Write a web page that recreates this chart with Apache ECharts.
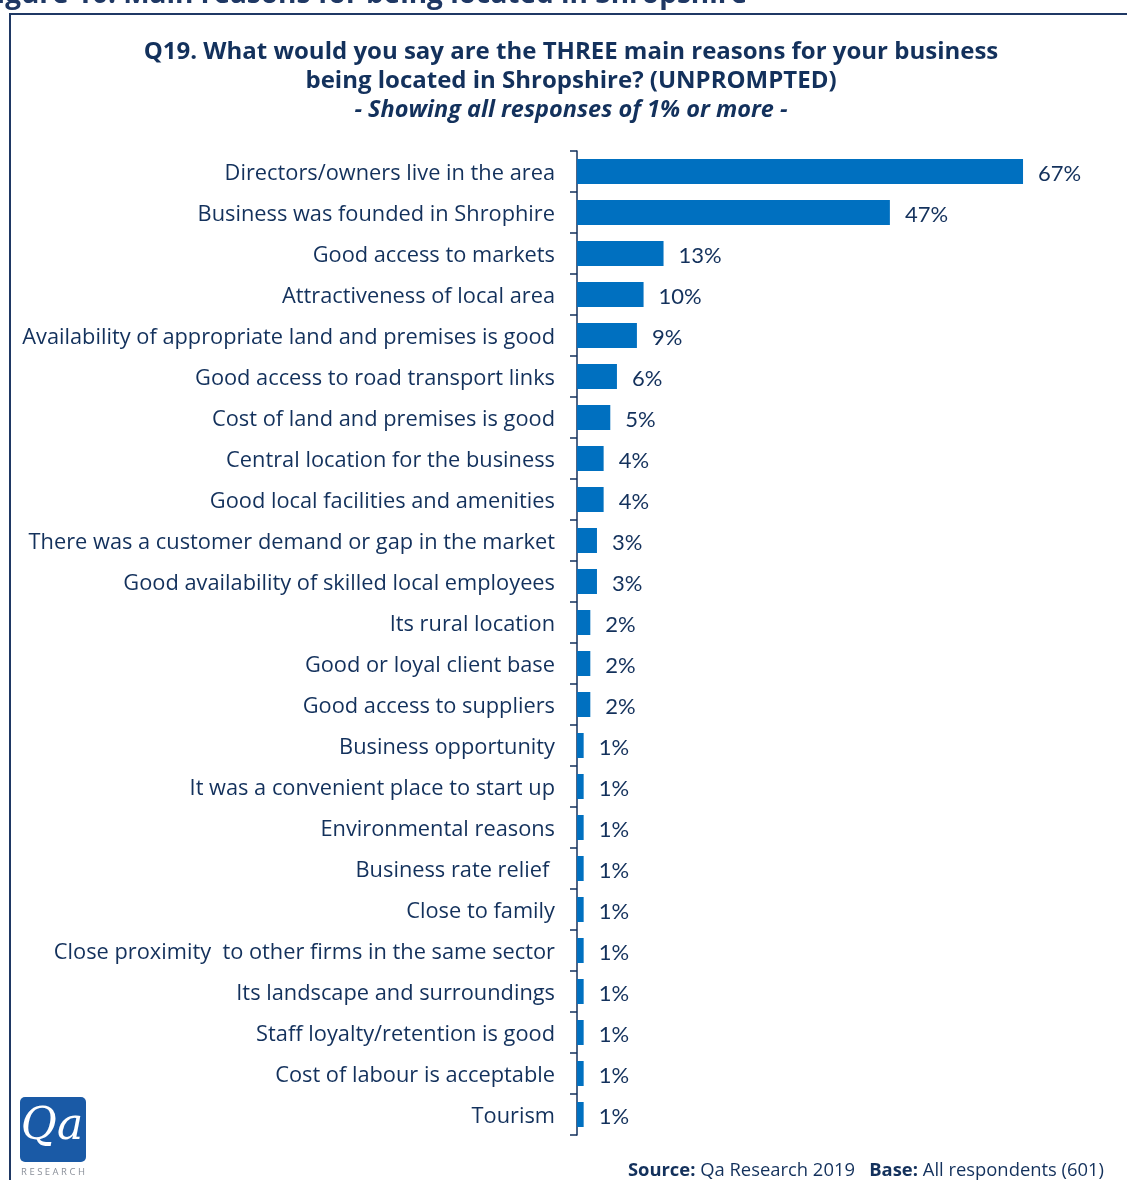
<!DOCTYPE html>
<html>
<head>
<meta charset="utf-8">
<script src="https://cdn.jsdelivr.net/npm/echarts@6/dist/echarts.min.js"></script>
<style>
  html, body { margin: 0; padding: 0; background: #ffffff; }
  #chart { width: 1127px; height: 1180px; }
</style>
</head>
<body>
<div id="chart"></div>
<script>
// Reasons for being located in Shropshire (share of respondents, %)
const reasons = [
  'Directors/owners live in the area',
  'Business was founded in Shrophire',
  'Good access to markets',
  'Attractiveness of local area',
  'Availability of appropriate land and premises is good',
  'Good access to road transport links',
  'Cost of land and premises is good',
  'Central location for the business',
  'Good local facilities and amenities',
  'There was a customer demand or gap in the market',
  'Good availability of skilled local employees',
  'Its rural location',
  'Good or loyal client base',
  'Good access to suppliers',
  'Business opportunity',
  'It was a convenient place to start up',
  'Environmental reasons',
  'Business rate relief ',
  'Close to family',
  'Close proximity  to other firms in the same sector',
  'Its landscape and surroundings',
  'Staff loyalty/retention is good',
  'Cost of labour is acceptable',
  'Tourism'
];
const shares = [67, 47, 13, 10, 9, 6, 5, 4, 4, 3, 3, 2, 2, 2, 1, 1, 1, 1, 1, 1, 1, 1, 1, 1];

const NAVY = '#13315c';
const BAR = '#0070c0';
const FONT = '"Open Sans", Lato, sans-serif';
const NUM_FONT = 'Lato, "Open Sans", sans-serif';

const chart = echarts.init(document.getElementById('chart'));

chart.setOption({
  backgroundColor: '#ffffff',
  animation: false,
  grid: { left: 577, top: 151, width: 466, height: 984, containLabel: false },
  xAxis: {
    type: 'value', min: 0, max: 70, show: false
  },
  yAxis: {
    type: 'category',
    inverse: true,
    data: reasons,
    axisLine: { show: true, lineStyle: { color: NAVY, width: 1.5 } },
    axisTick: { show: true, length: 7, lineStyle: { color: NAVY, width: 1.5 } },
    axisLabel: {
      margin: 22,
      formatter: v => '{t|' + v + '}',
      rich: { t: { color: NAVY, fontSize: 21.8, fontFamily: FONT, padding: [5, 0, 0, 0] } }
    }
  },
  series: [{
    type: 'bar',
    data: shares,
    barWidth: 25,
    itemStyle: { color: BAR },
    label: {
      show: true, position: 'right', distance: 15,
      formatter: p => '{v|' + p.value + '%}',
      rich: { v: { color: NAVY, fontSize: 22, fontFamily: NUM_FONT, padding: [4, 0, 0, 0] } }
    }
  }],
  graphic: [
    // outer frame
    { type: 'rect', shape: { x: 10, y: 14, width: 1200, height: 1250 },
      style: { fill: 'none', stroke: '#1f3864', lineWidth: 2 }, silent: true },
    // figure caption above the frame
    { type: 'text', x: 747, y: 9,
      style: { text: 'Figure 10: Main reasons for being located in Shropshire',
        font: 'bold 28px ' + FONT, fill: '#1f3864', align: 'right', verticalAlign: 'bottom' } },
    // question title
    { type: 'text', x: 571, y: 52,
      style: { text: 'Q19. What would you say are the THREE main reasons for your business',
        font: 'bold 24px ' + FONT, fill: NAVY, align: 'center', verticalAlign: 'middle' } },
    { type: 'text', x: 571, y: 81,
      style: { text: 'being located in Shropshire? (UNPROMPTED)',
        font: 'bold 24px ' + FONT, fill: NAVY, align: 'center', verticalAlign: 'middle' } },
    { type: 'text', x: 571, y: 110,
      style: { text: '- Showing all responses of 1% or more -',
        font: 'italic bold 23.5px ' + FONT, fill: NAVY, align: 'center', verticalAlign: 'middle' } },
    // logo
    { type: 'rect', shape: { x: 20, y: 1097, width: 66, height: 65, r: 5 },
      style: { fill: '#1a5aa6' } },
    { type: 'text', x: 52, y: 1128,
      style: { text: 'Qa', font: 'italic 44px "DejaVu Serif", "Liberation Serif", serif',
        fill: '#ffffff', align: 'center', verticalAlign: 'middle' } },
    { type: 'text', x: 53, y: 1172,
      style: { text: 'R E S E A R C H', font: '9.5px ' + FONT, fill: '#8a8f99',
        align: 'center', verticalAlign: 'middle' } },
    // source note
    { type: 'text', x: 1104, y: 1171,
      style: {
        text: '{b|Source:} Qa Research 2019   {b|Base:} All respondents (601)',
        align: 'right', verticalAlign: 'middle',
        font: '18.4px ' + FONT, fill: NAVY,
        rich: { b: { fontWeight: 'bold', fontSize: 18.4, fontFamily: FONT, fill: NAVY, color: NAVY } }
      } }
  ]
});
</script>
</body>
</html>
